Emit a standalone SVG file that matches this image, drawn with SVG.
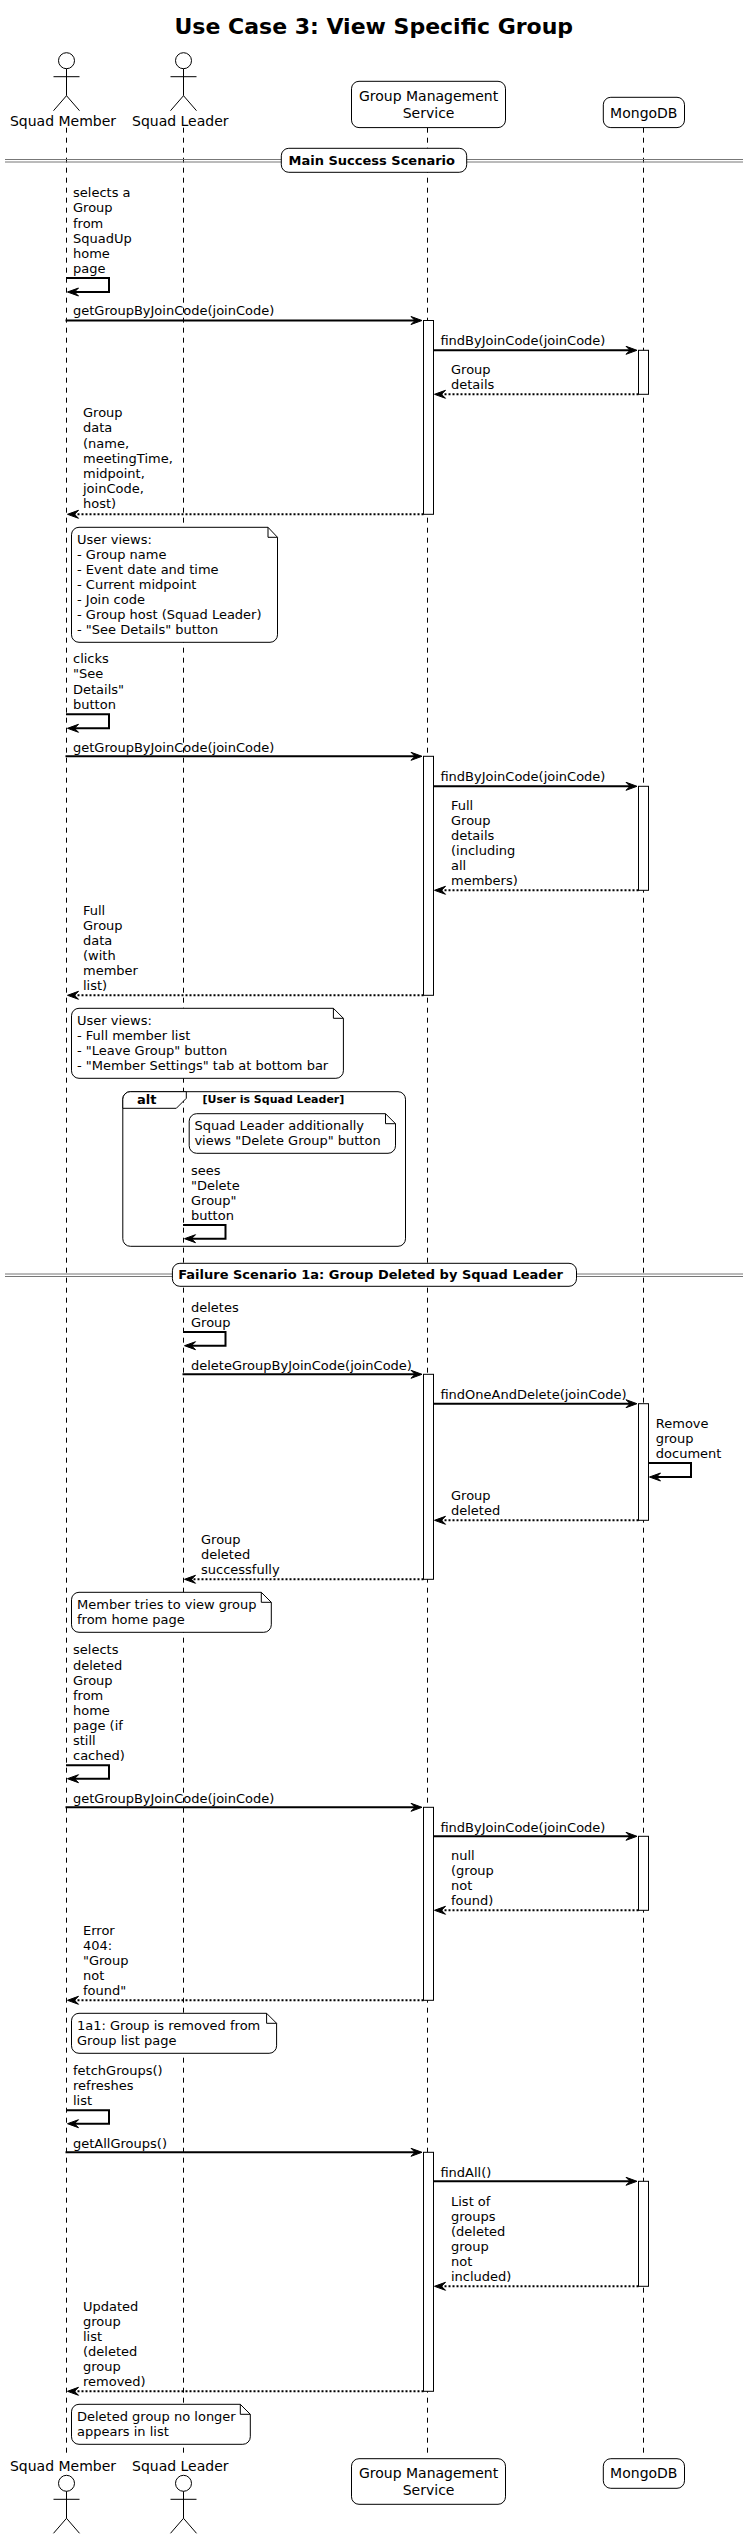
<svg xmlns="http://www.w3.org/2000/svg" width="749" height="2539" viewBox="0 0 749 2539">
<style>
text{font-family:"DejaVu Sans",sans-serif;font-size:13px;fill:#000}
.p{font-size:14px}
.c{text-anchor:middle}
.b{font-weight:bold}
.ll{stroke:#000;stroke-width:1;stroke-dasharray:5,5;fill:none}
.box{fill:#fff;stroke:#000;stroke-width:1}
.act{fill:#fff;stroke:#000;stroke-width:1}
.m{stroke:#000;stroke-width:2;fill:none}
.r{stroke:#000;stroke-width:2;stroke-dasharray:2,2;fill:none}
.a{fill:none;stroke:#000;stroke-width:1}
.dv{stroke:#777;stroke-width:1;fill:none}
.hd{fill:#000;stroke:#000;stroke-width:1}
</style>
<defs>
<g id="actor" class="a"><circle cx="0" cy="8" r="8"/><path d="M0 16V43M-13 24H13M0 43L-13 58M0 43L13 58"/></g>
<path id="al" class="hd" d="M0 0L-11 -4L-7 0L-11 4Z"/>
<path id="ar" class="hd" d="M0 0L11 -4L7 0L11 4Z"/>
</defs>
<text id="title" x="373.8" y="34" class="c b" style="font-size:22px">Use Case 3: View Specific Group</text>
<g id="lifelines">
<path class="ll" d="M66.5 127.7V2453M183.5 127.7V2453M427.5 127.7V2453M643.5 127.7V2453"/>
</g>
<g id="squad-member-top"><use href="#actor" x="66.5" y="52.7"/><text x="63" y="126" class="p c">Squad Member</text></g>
<g id="squad-leader-top"><use href="#actor" x="183.5" y="52.7"/><text x="180.3" y="126" class="p c">Squad Leader</text></g>
<g id="gms-top"><rect class="box" x="351.5" y="81.3" width="154" height="46.3" rx="7.5"/><text x="428.6" y="101" class="p c">Group Management</text><text x="428.6" y="117.5" class="p c">Service</text></g>
<g id="mongo-top"><rect class="box" x="603.3" y="97.3" width="81.2" height="30.3" rx="7.5"/><text x="643.8" y="117.5" class="p c">MongoDB</text></g>
<g id="divider-main"><path class="dv" d="M5 159.5H743M5 162H743"/><rect class="box" x="281.3" y="148.3" width="185.4" height="24" rx="7.5"/><text x="288.5" y="164.7" class="b">Main Success Scenario</text></g>
<g id="frame-alt"><rect class="a" x="122.8" y="1091.7" width="282.7" height="154.6" rx="7.5"/><path class="box" d="M122.8 1108.3V1099.2A7.5 7.5 0 0 1 130.3 1091.7H186.3V1098.3L176.3 1108.3Z"/><text x="137" y="1104" class="b">alt</text><text x="202.5" y="1102.7" class="b" style="font-size:11px">[User is Squad Leader]</text></g>
<g id="activations">
<rect class="act" x="423.5" y="320.5" width="10" height="193.8"/>
<rect class="act" x="638.5" y="350.3" width="10" height="44"/>
<rect class="act" x="423.5" y="756.3" width="10" height="239"/>
<rect class="act" x="638.5" y="786.3" width="10" height="104"/>
<rect class="act" x="423.5" y="1374.3" width="10" height="205"/>
<rect class="act" x="638.5" y="1403.7" width="10" height="116.6"/>
<rect class="act" x="423.5" y="1807.3" width="10" height="193"/>
<rect class="act" x="638.5" y="1836.3" width="10" height="74"/>
<rect class="act" x="423.5" y="2152.3" width="10" height="239"/>
<rect class="act" x="638.5" y="2181.3" width="10" height="105"/>
</g>
<g id="connectors">
<path class="m" d="M66 278H109V292H70"/><use href="#ar" x="67.5" y="292"/>
<path class="m" d="M65.5 320.5H416"/><use href="#al" x="422" y="320.5"/>
<path class="m" d="M433 350.3H631"/><use href="#al" x="637" y="350.3"/>
<path class="r" d="M638.5 394.3H441"/><use href="#ar" x="434.5" y="394.3"/>
<path class="r" d="M423.5 514.3H74"/><use href="#ar" x="67.5" y="514.3"/>
<path class="m" d="M66 714.3H109V728.3H70"/><use href="#ar" x="67.5" y="728.3"/>
<path class="m" d="M65.5 756.3H416"/><use href="#al" x="422" y="756.3"/>
<path class="m" d="M433 786.3H631"/><use href="#al" x="637" y="786.3"/>
<path class="r" d="M638.5 890.3H441"/><use href="#ar" x="434.5" y="890.3"/>
<path class="r" d="M423.5 995.3H74"/><use href="#ar" x="67.5" y="995.3"/>
<path class="m" d="M183 1225H225.5V1238.7H187"/><use href="#ar" x="184.5" y="1238.7"/>
<path class="m" d="M183 1332H225.5V1345.7H187"/><use href="#ar" x="184.5" y="1345.7"/>
<path class="m" d="M182.5 1374.3H416"/><use href="#al" x="422" y="1374.3"/>
<path class="m" d="M433 1403.7H631"/><use href="#al" x="637" y="1403.7"/>
<path class="m" d="M648 1463H691V1477H653"/><use href="#ar" x="649.5" y="1477"/>
<path class="r" d="M638.5 1520.3H441"/><use href="#ar" x="434.5" y="1520.3"/>
<path class="r" d="M423.5 1579.3H191"/><use href="#ar" x="184.5" y="1579.3"/>
<path class="m" d="M66 1765.3H109V1778.7H70"/><use href="#ar" x="67.5" y="1778.7"/>
<path class="m" d="M65.5 1807.3H416"/><use href="#al" x="422" y="1807.3"/>
<path class="m" d="M433 1836.3H631"/><use href="#al" x="637" y="1836.3"/>
<path class="r" d="M638.5 1910.3H441"/><use href="#ar" x="434.5" y="1910.3"/>
<path class="r" d="M423.5 2000.3H74"/><use href="#ar" x="67.5" y="2000.3"/>
<path class="m" d="M66 2110.3H109V2123.7H70"/><use href="#ar" x="67.5" y="2123.7"/>
<path class="m" d="M65.5 2152.3H416"/><use href="#al" x="422" y="2152.3"/>
<path class="m" d="M433 2181.3H631"/><use href="#al" x="637" y="2181.3"/>
<path class="r" d="M638.5 2286.3H441"/><use href="#ar" x="434.5" y="2286.3"/>
<path class="r" d="M423.5 2391.3H74"/><use href="#ar" x="67.5" y="2391.3"/>
</g>
<g id="labels">
<text><tspan x="73" y="197.3">selects a</tspan><tspan x="73" y="212.4">Group</tspan><tspan x="73" y="227.5">from</tspan><tspan x="73" y="242.7">SquadUp</tspan><tspan x="73" y="257.8">home</tspan><tspan x="73" y="272.9">page</tspan></text>
<text x="73" y="315">getGroupByJoinCode(joinCode)</text>
<text x="440.4" y="344.7">findByJoinCode(joinCode)</text>
<text><tspan x="451" y="373.7">Group</tspan><tspan x="451" y="388.8">details</tspan></text>
<text><tspan x="83" y="417.3">Group</tspan><tspan x="83" y="432.4">data</tspan><tspan x="83" y="447.5">(name,</tspan><tspan x="83" y="462.7">meetingTime,</tspan><tspan x="83" y="477.8">midpoint,</tspan><tspan x="83" y="492.9">joinCode,</tspan><tspan x="83" y="508">host)</tspan></text>
<text><tspan x="73" y="663.3">clicks</tspan><tspan x="73" y="678.4">"See</tspan><tspan x="73" y="693.5">Details"</tspan><tspan x="73" y="708.7">button</tspan></text>
<text x="73" y="751.7">getGroupByJoinCode(joinCode)</text>
<text x="440.4" y="780.7">findByJoinCode(joinCode)</text>
<text><tspan x="451" y="809.7">Full</tspan><tspan x="451" y="824.8">Group</tspan><tspan x="451" y="839.9">details</tspan><tspan x="451" y="855">(including</tspan><tspan x="451" y="870.2">all</tspan><tspan x="451" y="885.3">members)</tspan></text>
<text><tspan x="83" y="914.7">Full</tspan><tspan x="83" y="929.8">Group</tspan><tspan x="83" y="944.9">data</tspan><tspan x="83" y="960">(with</tspan><tspan x="83" y="975.2">member</tspan><tspan x="83" y="990.3">list)</tspan></text>
<text><tspan x="191" y="1174.7">sees</tspan><tspan x="191" y="1189.8">"Delete</tspan><tspan x="191" y="1204.9">Group"</tspan><tspan x="191" y="1220">button</tspan></text>
<text><tspan x="191" y="1311.7">deletes</tspan><tspan x="191" y="1326.8">Group</tspan></text>
<text x="191" y="1369.7">deleteGroupByJoinCode(joinCode)</text>
<text x="440.4" y="1398.7">findOneAndDelete(joinCode)</text>
<text><tspan x="655.8" y="1428">Remove</tspan><tspan x="655.8" y="1443">group</tspan><tspan x="655.8" y="1458">document</tspan></text>
<text><tspan x="451" y="1500">Group</tspan><tspan x="451" y="1515.2">deleted</tspan></text>
<text><tspan x="201" y="1544">Group</tspan><tspan x="201" y="1559.1">deleted</tspan><tspan x="201" y="1574.2">successfully</tspan></text>
<text><tspan x="73" y="1654.4">selects</tspan><tspan x="73" y="1669.5">deleted</tspan><tspan x="73" y="1684.6">Group</tspan><tspan x="73" y="1699.8">from</tspan><tspan x="73" y="1714.9">home</tspan><tspan x="73" y="1730">page (if</tspan><tspan x="73" y="1745.1">still</tspan><tspan x="73" y="1760.2">cached)</tspan></text>
<text x="73" y="1802.7">getGroupByJoinCode(joinCode)</text>
<text x="440.4" y="1831.7">findByJoinCode(joinCode)</text>
<text><tspan x="451" y="1860">null</tspan><tspan x="451" y="1875.1">(group</tspan><tspan x="451" y="1890.2">not</tspan><tspan x="451" y="1905.3">found)</tspan></text>
<text><tspan x="83" y="1935">Error</tspan><tspan x="83" y="1950.1">404:</tspan><tspan x="83" y="1965.2">"Group</tspan><tspan x="83" y="1980.3">not</tspan><tspan x="83" y="1995.4">found"</tspan></text>
<text><tspan x="73" y="2075">fetchGroups()</tspan><tspan x="73" y="2090.1">refreshes</tspan><tspan x="73" y="2105.2">list</tspan></text>
<text x="73" y="2147.7">getAllGroups()</text>
<text x="440.4" y="2176.7">findAll()</text>
<text><tspan x="451" y="2205.7">List of</tspan><tspan x="451" y="2220.8">groups</tspan><tspan x="451" y="2235.9">(deleted</tspan><tspan x="451" y="2251">group</tspan><tspan x="451" y="2266.2">not</tspan><tspan x="451" y="2281.3">included)</tspan></text>
<text><tspan x="83" y="2310.7">Updated</tspan><tspan x="83" y="2325.8">group</tspan><tspan x="83" y="2340.9">list</tspan><tspan x="83" y="2356">(deleted</tspan><tspan x="83" y="2371.2">group</tspan><tspan x="83" y="2386.3">removed)</tspan></text>
</g>
<g id="note-1"><path class="box" d="M79 527.3H268L277.5 537.3V634.8A7.5 7.5 0 0 1 270 642.3H79A7.5 7.5 0 0 1 71.5 634.8V534.8A7.5 7.5 0 0 1 79 527.3Z"/><path class="a" d="M268 527.3V537.3H277.5"/><text><tspan x="77" y="543.6">User views:</tspan><tspan x="77" y="558.7">- Group name</tspan><tspan x="77" y="573.8">- Event date and time</tspan><tspan x="77" y="589">- Current midpoint</tspan><tspan x="77" y="604.1">- Join code</tspan><tspan x="77" y="619.2">- Group host (Squad Leader)</tspan><tspan x="77" y="634.3">- "See Details" button</tspan></text></g>
<g id="note-2"><path class="box" d="M79 1008.3H333.4L343.4 1018.3V1070.8A7.5 7.5 0 0 1 335.9 1078.3H79A7.5 7.5 0 0 1 71.5 1070.8V1015.8A7.5 7.5 0 0 1 79 1008.3Z"/><path class="a" d="M333.4 1008.3V1018.3H343.4"/><text><tspan x="77" y="1024.6">User views:</tspan><tspan x="77" y="1039.7">- Full member list</tspan><tspan x="77" y="1054.9">- "Leave Group" button</tspan><tspan x="77" y="1070">- "Member Settings" tab at bottom bar</tspan></text></g>
<g id="note-3"><path class="box" d="M196.7 1113.7H385.5L395.5 1123.7V1145.8A7.5 7.5 0 0 1 388 1153.3H196.7A7.5 7.5 0 0 1 189.2 1145.8V1121.2A7.5 7.5 0 0 1 196.7 1113.7Z"/><path class="a" d="M385.5 1113.7V1123.7H395.5"/><text><tspan x="194.4" y="1130">Squad Leader additionally</tspan><tspan x="194.4" y="1145.1">views "Delete Group" button</tspan></text></g>
<g id="note-4"><path class="box" d="M79 1592.3H261.3L271.3 1602.3V1624.8A7.5 7.5 0 0 1 263.8 1632.3H79A7.5 7.5 0 0 1 71.5 1624.8V1599.8A7.5 7.5 0 0 1 79 1592.3Z"/><path class="a" d="M261.3 1592.3V1602.3H271.3"/><text><tspan x="77" y="1608.6">Member tries to view group</tspan><tspan x="77" y="1623.7">from home page</tspan></text></g>
<g id="note-5"><path class="box" d="M79 2013.3H266.6L276.6 2023.3V2045.8A7.5 7.5 0 0 1 269.1 2053.3H79A7.5 7.5 0 0 1 71.5 2045.8V2020.8A7.5 7.5 0 0 1 79 2013.3Z"/><path class="a" d="M266.6 2013.3V2023.3H276.6"/><text><tspan x="77" y="2029.6">1a1: Group is removed from</tspan><tspan x="77" y="2044.7">Group list page</tspan></text></g>
<g id="note-6"><path class="box" d="M79 2404.3H240.3L250.3 2414.3V2436.8A7.5 7.5 0 0 1 242.8 2444.3H79A7.5 7.5 0 0 1 71.5 2436.8V2411.8A7.5 7.5 0 0 1 79 2404.3Z"/><path class="a" d="M240.3 2404.3V2414.3H250.3"/><text><tspan x="77" y="2420.6">Deleted group no longer</tspan><tspan x="77" y="2435.7">appears in list</tspan></text></g>
<g id="divider-failure"><path class="dv" d="M5 1274H743M5 1276.5H743"/><rect class="box" x="172.4" y="1263.3" width="404.1" height="23" rx="7.5"/><text x="178.2" y="1278.7" class="b">Failure Scenario 1a: Group Deleted by Squad Leader</text></g>
<g id="squad-member-bottom"><text x="63" y="2471" class="p c">Squad Member</text><use href="#actor" x="66.5" y="2475.3"/></g>
<g id="squad-leader-bottom"><text x="180.3" y="2471" class="p c">Squad Leader</text><use href="#actor" x="183.5" y="2475.3"/></g>
<g id="gms-bottom"><rect class="box" x="351.5" y="2458.7" width="154" height="45.6" rx="7.5"/><text x="428.6" y="2478" class="p c">Group Management</text><text x="428.6" y="2494.5" class="p c">Service</text></g>
<g id="mongo-bottom"><rect class="box" x="603.3" y="2458.7" width="81.2" height="29.6" rx="7.5"/><text x="643.8" y="2478" class="p c">MongoDB</text></g>
</svg>
